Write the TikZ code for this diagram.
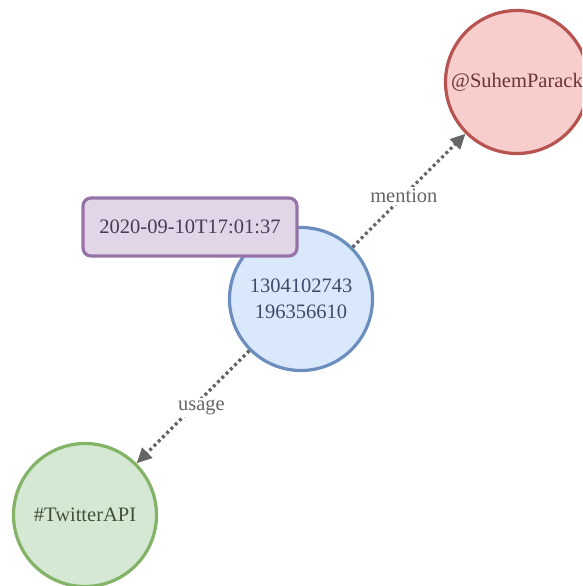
\documentclass[tikz,border=0pt]{standalone}
\usepackage{fontspec}
\setmainfont{Liberation Serif}
\usetikzlibrary{arrows.meta}
\definecolor{bfill}{HTML}{DAE8FC}\definecolor{bdraw}{HTML}{6C8EBF}\definecolor{btext}{HTML}{3E4A68}
\definecolor{rfill}{HTML}{F8CECC}\definecolor{rdraw}{HTML}{B85450}\definecolor{rtext}{HTML}{6A3431}
\definecolor{gfill}{HTML}{D5E8D4}\definecolor{gdraw}{HTML}{82B366}\definecolor{gtext}{HTML}{3F5236}
\definecolor{pfill}{HTML}{E1D5E7}\definecolor{pdraw}{HTML}{9673A6}\definecolor{ptext}{HTML}{4A3A56}
\definecolor{edgec}{HTML}{666666}
\begin{document}
\begin{tikzpicture}[x=1pt,y=-1pt,
  txt/.style={font=\fontsize{20.5}{26}\selectfont, align=center},
  ent/.style={circle, line width=3.2pt, minimum size=143pt, inner sep=0pt, txt},
  rel/.style={draw=edgec, line width=3.2pt, dash pattern=on 3pt off 3pt,
    -{Triangle[length=15pt,width=14pt]}},
  lbl/.style={fill=white, text=edgec, inner sep=2pt, font=\fontsize{20.5}{22}\selectfont}]
\useasboundingbox (0,0) rectangle (582,586);
\begin{scope}
\clip (0,0) rectangle (582,586);
\node[ent, fill=bfill, draw=bdraw, text=btext] (tweet) at (301,299) {1304102743\\196356610};
\node[ent, fill=rfill, draw=rdraw, text=rtext] (user) at (517,82) {@SuhemParack};
\node[ent, fill=gfill, draw=gdraw, text=gtext] (tag) at (85,515) {\#TwitterAPI};
\node[txt, draw=pdraw, fill=pfill, text=ptext, line width=3.2pt, rounded corners=8pt,
  minimum width=214pt, minimum height=58pt] (date) at (190,227) {2020-09-10T17:01:37};
\draw[rel] (tweet) -- node[lbl, pos=0.49, xshift=-4pt, yshift=-4pt] {mention} (user);
\draw[rel] (tweet) -- node[lbl, pos=0.46, xshift=4pt, yshift=-5pt] {usage} (tag);
\end{scope}
\end{tikzpicture}
\end{document}
